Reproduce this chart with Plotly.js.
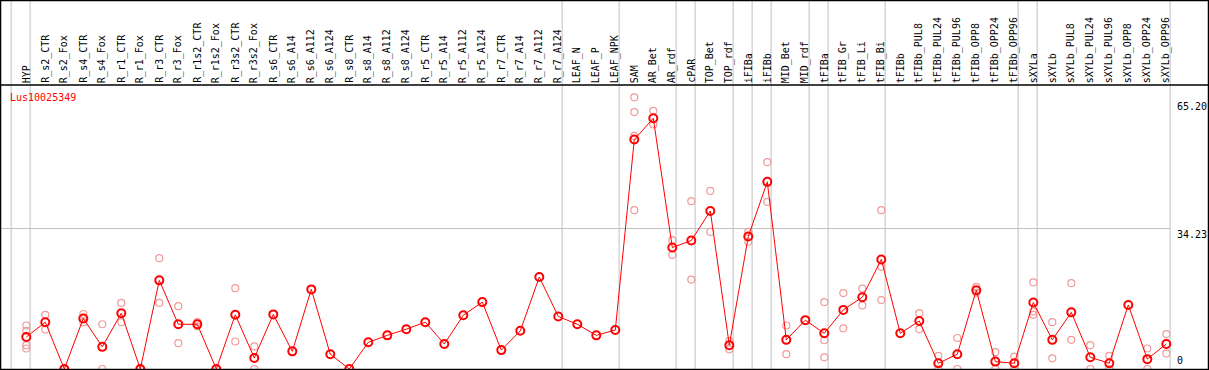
<!DOCTYPE html>
<html>
<head>
<meta charset="utf-8">
<script src="https://cdn.plot.ly/plotly-3.0.1.min.js"></script>
<style>
  html, body { margin: 0; padding: 0; background: #fff; }
  #chart { width: 1209px; height: 370px; }
</style>
</head>
<body>
<div id="chart"></div>
<script>
// ---------- data ----------
const geneName = "Lus10025349";

const categories = [
  "HYP","R_s2_CTR","R_s2_Fox","R_s4_CTR","R_s4_Fox","R_r1_CTR","R_r1_Fox","R_r3_CTR","R_r3_Fox",
  "R_r1s2_CTR","R_r1s2_Fox","R_r3s2_CTR","R_r3s2_Fox","R_s6_CTR","R_s6_A14","R_s6_A112","R_s6_A124",
  "R_s8_CTR","R_s8_A14","R_s8_A112","R_s8_A124","R_r5_CTR","R_r5_A14","R_r5_A112","R_r5_A124",
  "R_r7_CTR","R_r7_A14","R_r7_A112","R_r7_A124","LEAF_N","LEAF_P","LEAF_NPK","SAM","AR_Bet","AR_rdf",
  "cPAR","TOP_Bet","TOP_rdf","iFIBa","iFIBb","MID_Bet","MID_rdf","tFIBa","tFIB_Gr","tFIB_Li","tFIB_Bi",
  "tFIBb","tFIBb_PUL8","tFIBb_PUL24","tFIBb_PUL96","tFIBb_OPP8","tFIBb_OPP24","tFIBb_OPP96",
  "sXYLa","sXYLb","sXYLb_PUL8","sXYLb_PUL24","sXYLb_PUL96","sXYLb_OPP8","sXYLb_OPP24","sXYLb_OPP96"
];

const meanValues = [
  7.8, 11.4, 0, 12.3, 5.4, 13.6, 0, 21.6, 10.9,
  10.9, 0, 13.2, 2.7, 13.3, 4.3, 19.4, 3.6,
  0, 6.5, 8.2, 9.7, 11.4, 6.1, 13.1, 16.3,
  4.6, 9.3, 22.4, 12.8, 10.9, 8.2, 9.5, 55.9, 61.1, 29.6,
  31.3, 38.5, 5.8, 32.3, 45.6, 7.1, 11.9, 8.7, 14.4, 17.5, 26.7,
  8.7, 11.7, 1.4, 3.6, 19.2, 1.8, 1.4,
  16.2, 7.1, 13.8, 2.85, 1.4, 15.6, 2.4, 6.1
];

const replicateValues = [
  [10.6, 9.3, 5.8, 5.0], [13.2, 9.6], [0, 0], [13.4, 11.4], [10.9, 0], [16.1, 11.4], [0, 0], [27.0, 16.1], [15.3, 6.3],
  [11.4, 10.4], [0, 0], [19.7, 6.7], [5.5, 0], [], [], [], [],
  [], [], [], [], [], [], [], [],
  [], [], [], [], [], [], [], [66.2, 62.6, 56.8, 38.7], [62.9, 59.6], [31.4, 27.8],
  [40.9, 21.8], [43.4, 33.4], [6.8, 4.8], [33.4, 31.0], [50.4, 40.7], [10.6, 3.6], [], [16.3, 7.0, 2.85], [18.5, 9.9], [19.6, 15.5], [38.7, 24.9, 16.8],
  [], [13.6, 9.7], [3.2, 0], [7.55, 0], [20.0, 18.6], [4.1, 0], [3.0, 0],
  [21.1, 14.0, 13.2], [11.4, 2.6], [20.9, 7.1], [5.8, 0], [3.2, 0], [], [5.0, 0], [8.5, 3.8]
];

const rightTickValues = [0, 34.23, 65.20];
const rightTickLabels = ["0", "34.23", "65.20"];
const gridValues = [34.23];

// separators drawn just after these categories ("" = before the first)
const groupEnds = ["", "HYP", "R_r7_A124", "LEAF_NPK", "AR_rdf", "cPAR", "TOP_rdf", "iFIBa", "iFIBb",
                   "MID_rdf", "tFIBa", "tFIB_Bi", "tFIBb_OPP96", "sXYLa", "sXYLb_OPP96"];

// ---------- layout constants ----------
const W = 1209, H = 370;
const X_RANGE = [-1.384, 62.247];
const Y_RANGE = [-0.244, 89.91];
const HEADER_Y = 69.2;           // data-value of the header rule
const FONT = "DejaVu Sans Mono, Liberation Mono, monospace";
const RED = "#ff0000";
const PINK = "#f09a9a";
const GRAY = "#c0c0c0";

// ---------- traces ----------
const repX = [], repY = [];
replicateValues.forEach((arr, i) => arr.forEach(v => { repX.push(i); repY.push(v); }));
const catIdx = categories.map((c, i) => i);

const traces = [
  {
    type: "scatter", mode: "markers", x: repX, y: repY, hoverinfo: "skip", cliponaxis: false,
    marker: { symbol: "circle-open", size: 7, color: PINK, line: { width: 1.2, color: PINK } }
  },
  {
    type: "scatter", mode: "lines+markers", x: catIdx, y: meanValues, cliponaxis: false,
    line: { color: RED, width: 1 },
    marker: { symbol: "circle-open", size: 8, color: RED, line: { width: 2, color: RED } }
  }
];

// ---------- shapes ----------
const shapes = [];
const lastSep = categories.indexOf(groupEnds[groupEnds.length - 1]) + 0.2;
gridValues.forEach(v => shapes.push({
  type: "line", xref: "x", yref: "y", x0: X_RANGE[0], x1: lastSep, y0: v, y1: v,
  line: { color: GRAY, width: 1 }, layer: "below"
}));
groupEnds.forEach(name => {
  const xi = categories.indexOf(name) + 0.2;   // "" -> -1 + 0.2
  shapes.push({
    type: "line", xref: "x", yref: "paper", x0: xi, x1: xi, y0: 0, y1: 1,
    line: { color: GRAY, width: 1 }, layer: "below"
  });
});
shapes.push({
  type: "line", xref: "paper", yref: "y", x0: 0, x1: 1, y0: HEADER_Y, y1: HEADER_Y,
  line: { color: "#000", width: 1.3 }
});
shapes.push({
  type: "rect", xref: "paper", yref: "paper", x0: 0, x1: 1, y0: 0, y1: 1,
  line: { color: "#000", width: 2.5 }
});

// ---------- annotations ----------
const annotations = [];
categories.forEach((c, i) => annotations.push({
  x: i, y: HEADER_Y, xref: "x", yref: "y", text: c, showarrow: false,
  textangle: -90, xanchor: "center", yanchor: "bottom", yshift: 0,
  font: { family: FONT, size: 10, color: "#000" }
}));
rightTickValues.forEach((v, k) => annotations.push({
  x: 1175 / W, y: v, xref: "paper", yref: "y", text: rightTickLabels[k], showarrow: false,
  xanchor: "left", yanchor: v === 0 ? "bottom" : "top", yshift: v === 0 ? 1 : 2,
  font: { family: FONT, size: 10, color: "#000" }
}));
annotations.push({
  x: 8 / W, y: (H - 90) / H, xref: "paper", yref: "paper", text: geneName, showarrow: false,
  xanchor: "left", yanchor: "top", font: { family: FONT, size: 10, color: RED }
});

const layout = {
  width: W, height: H,
  margin: { l: 0, r: 0, t: 0, b: 0, pad: 0 },
  paper_bgcolor: "#fff", plot_bgcolor: "#fff",
  showlegend: false,
  xaxis: { range: X_RANGE, showgrid: false, zeroline: false, showticklabels: false, ticks: "", fixedrange: true },
  yaxis: { range: Y_RANGE, showgrid: false, zeroline: false, showticklabels: false, ticks: "", fixedrange: true },
  shapes: shapes,
  annotations: annotations
};

Plotly.newPlot("chart", traces, layout, { displayModeBar: false, staticPlot: true });
</script>
</body>
</html>
